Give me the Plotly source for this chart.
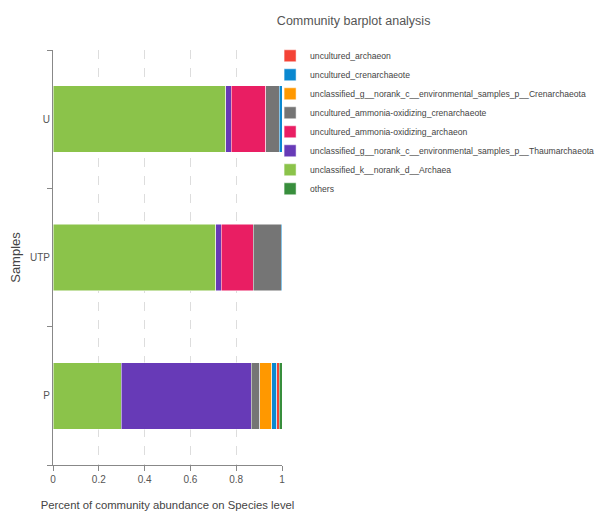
import plotly.graph_objects as go

samples = ["U", "UTP", "P"]

species = [
    "unclassified_k__norank_d__Archaea",
    "unclassified_g__norank_c__environmental_samples_p__Thaumarchaeota",
    "uncultured_ammonia-oxidizing_archaeon",
    "uncultured_ammonia-oxidizing_crenarchaeote",
    "unclassified_g__norank_c__environmental_samples_p__Crenarchaeota",
    "uncultured_crenarchaeote",
    "uncultured_archaeon",
    "others",
]
colors = ["#8BC34A", "#673AB7", "#E91E63", "#757575", "#FF9800", "#0A88D0", "#F44336", "#388E3C"]
legend_ranks = [7, 6, 5, 4, 3, 2, 1, 8]

# abundance per species, values for samples U, UTP, P
archaea = [0.754, 0.710, 0.297]
thaum = [0.025, 0.024, 0.568]
amo_archaeon = [0.150, 0.141, 0.000]
amo_crenarchaeote = [0.059, 0.122, 0.037]
crenarchaeota = [0.000, 0.000, 0.053]
crenarchaeote = [0.012, 0.003, 0.022]
archaeon = [0.000, 0.000, 0.011]
others = [0.000, 0.000, 0.012]
values = [archaea, thaum, amo_archaeon, amo_crenarchaeote, crenarchaeota, crenarchaeote, archaeon, others]

FONT = "Liberation Sans, Arial, sans-serif"

fig = go.Figure()
for name, col, rank, vals in zip(species, colors, legend_ranks, values):
    fig.add_trace(go.Bar(
        y=samples, x=vals, name=name, orientation="h",
        marker=dict(color=col, line=dict(color="white", width=0.5)),
        legendrank=rank,
    ))

fig.update_layout(
    barmode="stack",
    width=598, height=506,
    margin=dict(l=45, r=324, t=42, b=49, autoexpand=False),
    plot_bgcolor="white", paper_bgcolor="white",
    bargap=0.52,
    font=dict(family=FONT, color="#555555", size=10),
    title=dict(text="Community barplot analysis", x=0.578, xanchor="center",
               y=0.976, yanchor="middle", font=dict(size=12.5, color="#555555", family=FONT)),
    showlegend=True,
    legend=dict(x=0.948, xanchor="left", y=1.021, yanchor="top",
                bgcolor="rgba(0,0,0,0)",
                font=dict(size=8.6, color="#444444", family=FONT),
                traceorder="normal", itemwidth=30, tracegroupgap=0),
    xaxis=dict(range=[0, 1], tickvals=[0, 0.2, 0.4, 0.6, 0.8, 1],
               ticktext=["0", "0.2", "0.4", "0.6", "0.8", "1"],
               showgrid=True, gridcolor="#dddddd", griddash="dash", gridwidth=1,
               showline=True, linecolor="#888888", linewidth=1,
               ticks="outside", ticklen=5, tickcolor="#888888",
               zeroline=False,
               tickfont=dict(size=10, color="#555555"),
               title=dict(text="Percent of community abundance on Species level",
                          font=dict(size=11.3, color="#444444"), standoff=17)),
    yaxis=dict(categoryorder="array", categoryarray=["P", "UTP", "U"],
               showline=True, linecolor="#888888", linewidth=1,
               ticks="outside", ticklen=5, tickcolor="#888888", tickson="boundaries",
               showgrid=False,
               tickfont=dict(size=10, color="#555555"),
               title=dict(text="Samples", font=dict(size=13, color="#444444"), standoff=10)),
)

fig.write_html("out.html")
